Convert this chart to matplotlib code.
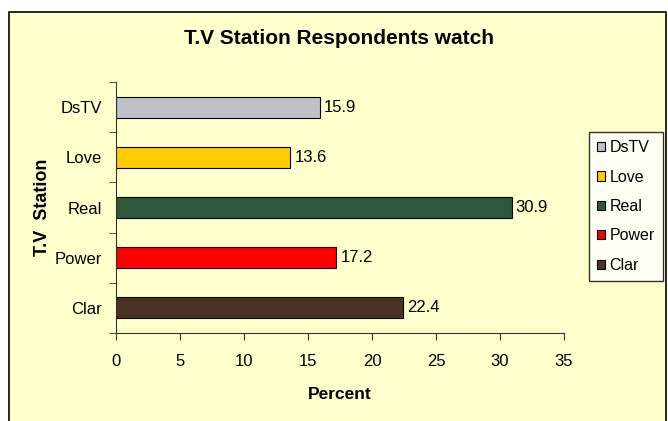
import matplotlib
matplotlib.use("Agg")
import matplotlib.pyplot as plt
from matplotlib.patches import Patch, Rectangle

plt.rcParams['font.family'] = ['Liberation Sans', 'DejaVu Sans']

stations = ['Clar', 'Power', 'Real', 'Love', 'DsTV']
percent = [22.4, 17.2, 30.9, 13.6, 15.9]
colors = ['#4a3322', '#ff0000', '#2c5a38', '#ffcc00', '#c0c0c8']
xticks = [0, 5, 10, 15, 20, 25, 30, 35]

fig = plt.figure(figsize=(6.68, 4.21), dpi=100)
fig.patch.set_facecolor('white')
# chart area frame
fig.patches.append(Rectangle((9 / 668, -0.05), 657 / 668, 1.05 - 12 / 421,
                             transform=fig.transFigure, facecolor='#ffffcc',
                             edgecolor='black', linewidth=1.2, zorder=-10))

ax = fig.add_axes([0.1737, 0.209, 0.6707, 0.5962])
ax.set_facecolor('none')

pos = list(range(len(stations)))
bars = ax.barh(pos, percent, height=0.42, color=colors, edgecolor='black', linewidth=0.8)
ax.bar_label(bars, labels=[f'{v:.1f}' for v in percent], padding=3, fontsize=12)

ax.set_xlim(0, 35)
ax.set_ylim(-0.5, len(stations) - 0.5)
ax.set_xticks(xticks)
ax.set_yticks(pos)
ax.set_yticklabels(stations)
ax.set_yticks([p - 0.5 for p in pos] + [len(stations) - 0.5], minor=True)
ax.tick_params(axis='y', which='major', length=0, pad=10, labelsize=12)
ax.tick_params(axis='y', which='minor', length=5, color='#333333')
ax.tick_params(axis='x', length=5, pad=10, labelsize=12, color='#333333')

for s in ['top', 'right']:
    ax.spines[s].set_visible(False)
for s in ['left', 'bottom']:
    ax.spines[s].set_color('#333333')

ax.set_xlabel('Percent', fontsize=12.5, fontweight='bold', labelpad=13)
ax.set_ylabel('T.V  Station', fontsize=13, fontweight='bold', labelpad=3)
fig.text(339 / 668, 1 - 39 / 421, 'T.V Station Respondents watch',
         ha='center', va='center', fontsize=15, fontweight='bold')

handles = [Patch(facecolor=c, edgecolor='black', linewidth=0.8) for c in colors[::-1]]
leg = fig.legend(handles, stations[::-1], loc='upper left',
                 bbox_to_anchor=(589 / 668, 1 - 132 / 421), fontsize=11.5,
                 frameon=True, fancybox=False, handlelength=0.5, handleheight=0.5,
                 handletextpad=0.25, labelspacing=0.9, borderpad=0.52,
                 borderaxespad=0)
leg.get_frame().set_edgecolor('black')
leg.get_frame().set_linewidth(1.0)

fig.savefig('out.png', dpi=100)
